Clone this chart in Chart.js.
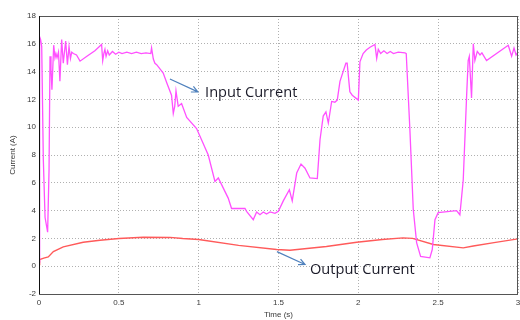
<!DOCTYPE html>
<html>
<head>
<meta charset="utf-8">
<script src="https://cdn.jsdelivr.net/npm/chart.js@4.4.1/dist/chart.umd.min.js"></script>
<style>
  html, body { margin: 0; padding: 0; background: #fff; overflow: hidden; }
  #wrap { width: 520px; height: 320px; }
</style>
</head>
<body>
<div id="wrap"><canvas id="currentChart"></canvas></div>
<script>
// Input current (magenta)
const inputTime = [0, 0.004, 0.01, 0.017, 0.027, 0.038, 0.054, 0.063, 0.069, 0.075, 0.081, 0.092, 0.1, 0.106,
    0.113, 0.122, 0.131, 0.142, 0.152, 0.167, 0.178, 0.188, 0.197, 0.205, 0.215, 0.235, 0.257, 0.3, 0.35,
    0.392, 0.399, 0.406, 0.413, 0.42, 0.43, 0.44, 0.46, 0.48, 0.5, 0.52, 0.55, 0.58, 0.61, 0.64, 0.67, 0.7,
    0.705, 0.716, 0.726, 0.737, 0.778, 0.8, 0.83, 0.841, 0.85, 0.858, 0.872, 0.893, 0.925, 0.987, 1.06,
    1.102, 1.123, 1.185, 1.206, 1.29, 1.3, 1.342, 1.363, 1.384, 1.405, 1.425, 1.447, 1.478, 1.499, 1.53,
    1.568, 1.586, 1.614, 1.641, 1.666, 1.697, 1.743, 1.76, 1.78, 1.797, 1.812, 1.833, 1.853, 1.868, 1.885,
    1.922, 1.93, 1.947, 1.962, 2.0, 2.01, 2.03, 2.05, 2.073, 2.104, 2.115, 2.125, 2.14, 2.16, 2.18, 2.2,
    2.22, 2.25, 2.292, 2.3, 2.323, 2.344, 2.365, 2.39, 2.448, 2.463, 2.48, 2.5, 2.615, 2.636, 2.657, 2.678,
    2.688, 2.695, 2.709, 2.72, 2.73, 2.745, 2.762, 2.774, 2.803, 2.939, 2.96, 2.975, 2.988, 3.0];
const inputCurrent = [0.3, 16.5, 16.3, 15.8, 7.7, 3.5, 2.45, 7, 15.1, 14.2, 12.7, 15.9, 15.0, 15.3,
    15.0, 15.4, 13.3, 16.3, 14.6, 16.2, 14.5, 15.8, 14.95, 15.4, 15.3, 15.2, 14.75, 15.1, 15.5,
    15.95, 14.8, 15.3, 15.6, 15.1, 15.5, 15.2, 15.45, 15.25, 15.4, 15.3, 15.4, 15.3, 15.4, 15.3, 15.35, 15.3,
    15.7, 14.9, 14.6, 14.5, 13.9, 13.2, 12.3, 11.0, 11.5, 12.6, 11.5, 11.7, 10.7, 9.9, 8.0,
    6.1, 6.35, 4.9, 4.15, 4.15, 3.95, 3.35, 3.9, 3.7, 3.9, 3.75, 3.9, 3.8, 3.95, 4.7,
    5.5, 4.7, 6.7, 7.35, 7.05, 6.35, 6.3, 9.1, 10.8, 11.1, 10.3, 11.85, 11.8, 11.95, 13.3,
    14.6, 14.6, 12.55, 12.3, 11.95, 14.7, 15.3, 15.55, 15.75, 15.95, 14.95, 15.6, 15.3, 15.5, 15.3, 15.45,
    15.3, 15.4, 15.35, 15.3, 9.8, 4.1, 1.7, 0.7, 0.6, 1.2, 3.35, 3.85, 4.0, 3.7, 6.2, 12.2,
    14.8, 15.1, 12.1, 16.0, 14.8, 15.45, 15.2, 15.35, 14.8, 15.9, 15.1, 15.7, 15.2, 15.4];

// Output current (red)
const outputTime = [0, 0.004, 0.03, 0.058, 0.09, 0.152, 0.277, 0.382, 0.5, 0.653, 0.82, 0.9, 1.0, 1.25,
    1.488, 1.572, 1.8, 1.99, 2.15, 2.28, 2.34, 2.47, 2.657, 2.72, 2.85, 3.0];
const outputCurrent = [0.12, 0.48, 0.58, 0.67, 1.05, 1.39, 1.72, 1.87, 1.99, 2.08, 2.07, 1.99, 1.92, 1.5,
    1.2, 1.15, 1.42, 1.72, 1.92, 2.04, 2.0, 1.56, 1.32, 1.45, 1.7, 1.97];

const xTicks = [0, 0.5, 1, 1.5, 2, 2.5, 3];
const yTicks = [-2, 0, 2, 4, 6, 8, 10, 12, 14, 16, 18];

const labelTexts = ['Input Current', 'Output Current'];

const toPoints = (xs, ys) => xs.map((x, i) => ({ x: x, y: ys[i] }));

const tickFont = { family: "'Liberation Sans', Arial, sans-serif", size: 8 };
const tickColor = '#3a3a3a';

// box around the plot, plus arrows and the two labels
const annotations = {
    id: 'annotations',
    afterDraw(chart) {
        const { ctx, chartArea: a, scales: { x, y } } = chart;
        ctx.save();
        ctx.strokeStyle = '#555';
        ctx.lineWidth = 1;
        ctx.strokeRect(a.left + 0.5, a.top + 0.5, a.right - a.left - 1, a.bottom - a.top);
        ctx.strokeStyle = '#111';
        ctx.beginPath();
        ctx.moveTo(a.left + 0.5, a.top);
        ctx.lineTo(a.left + 0.5, a.bottom);
        ctx.stroke();

        const arrow = (t0, v0, t1, v1) => {
            const x0 = x.getPixelForValue(t0), y0 = y.getPixelForValue(v0);
            const x1 = x.getPixelForValue(t1), y1 = y.getPixelForValue(v1);
            const ang = Math.atan2(y1 - y0, x1 - x0);
            ctx.strokeStyle = '#4f81bd';
            ctx.lineWidth = 1.2;
            ctx.beginPath();
            ctx.moveTo(x0, y0);
            ctx.lineTo(x1, y1);
            ctx.moveTo(x1 - 7 * Math.cos(ang - 0.45), y1 - 7 * Math.sin(ang - 0.45));
            ctx.lineTo(x1, y1);
            ctx.lineTo(x1 - 7 * Math.cos(ang + 0.45), y1 - 7 * Math.sin(ang + 0.45));
            ctx.stroke();
        };
        arrow(0.82, 13.47, 0.995, 12.54);
        arrow(1.49, 1.05, 1.666, 0.12);

        ctx.fillStyle = '#1a1a28';
        ctx.font = "14.6px 'Open Sans', sans-serif";
        ctx.textBaseline = 'middle';
        ctx.fillText(labelTexts[0], x.getPixelForValue(1.04), y.getPixelForValue(12.45));
        ctx.fillText(labelTexts[1], x.getPixelForValue(1.697), y.getPixelForValue(-0.27));
        ctx.restore();
    }
};

new Chart(document.getElementById('currentChart'), {
    type: 'line',
    data: {
        datasets: [
            {
                label: 'Input Current',
                data: toPoints(inputTime, inputCurrent),
                borderColor: '#ff50ff',
                borderWidth: 1.3,
                pointRadius: 0,
                tension: 0
            },
            {
                label: 'Output Current',
                data: toPoints(outputTime, outputCurrent),
                borderColor: '#ff5a5a',
                borderWidth: 1.4,
                pointRadius: 0,
                tension: 0
            }
        ]
    },
    options: {
        responsive: true,
        maintainAspectRatio: false,
        animation: false,
        layout: { autoPadding: false, padding: { top: 16, right: 2, left: 0, bottom: 0 } },
        plugins: { legend: { display: false }, tooltip: { enabled: false } },
        scales: {
            x: {
                type: 'linear', min: 0, max: 3,
                afterBuildTicks: s => { s.ticks = xTicks.map(v => ({ value: v })); },
                afterFit: s => { s.height = 26; s.paddingLeft = 0; s.paddingRight = 0; },
                grid: { color: '#b0b0b0', drawTicks: false },
                border: { display: false, dash: [1, 2] },
                ticks: { color: tickColor, font: tickFont, padding: 4, maxRotation: 0, callback: v => String(v) },
                title: { display: true, text: 'Time (s)', color: tickColor, font: tickFont, padding: { top: 0, bottom: 0 } }
            },
            y: {
                type: 'linear', min: -2, max: 18,
                afterBuildTicks: s => { s.ticks = yTicks.map(v => ({ value: v })); },
                afterFit: s => { s.width = 39; s.paddingTop = 0; s.paddingBottom = 0; },
                grid: { color: '#b0b0b0', drawTicks: false },
                border: { display: false, dash: [1, 2] },
                ticks: { color: tickColor, font: tickFont, padding: 3, callback: v => String(v) },
                title: { display: true, text: 'Current (A)', color: tickColor, font: tickFont, padding: { top: 8, bottom: 0 } }
            }
        }
    },
    plugins: [annotations]
});
</script>
</body>
</html>
